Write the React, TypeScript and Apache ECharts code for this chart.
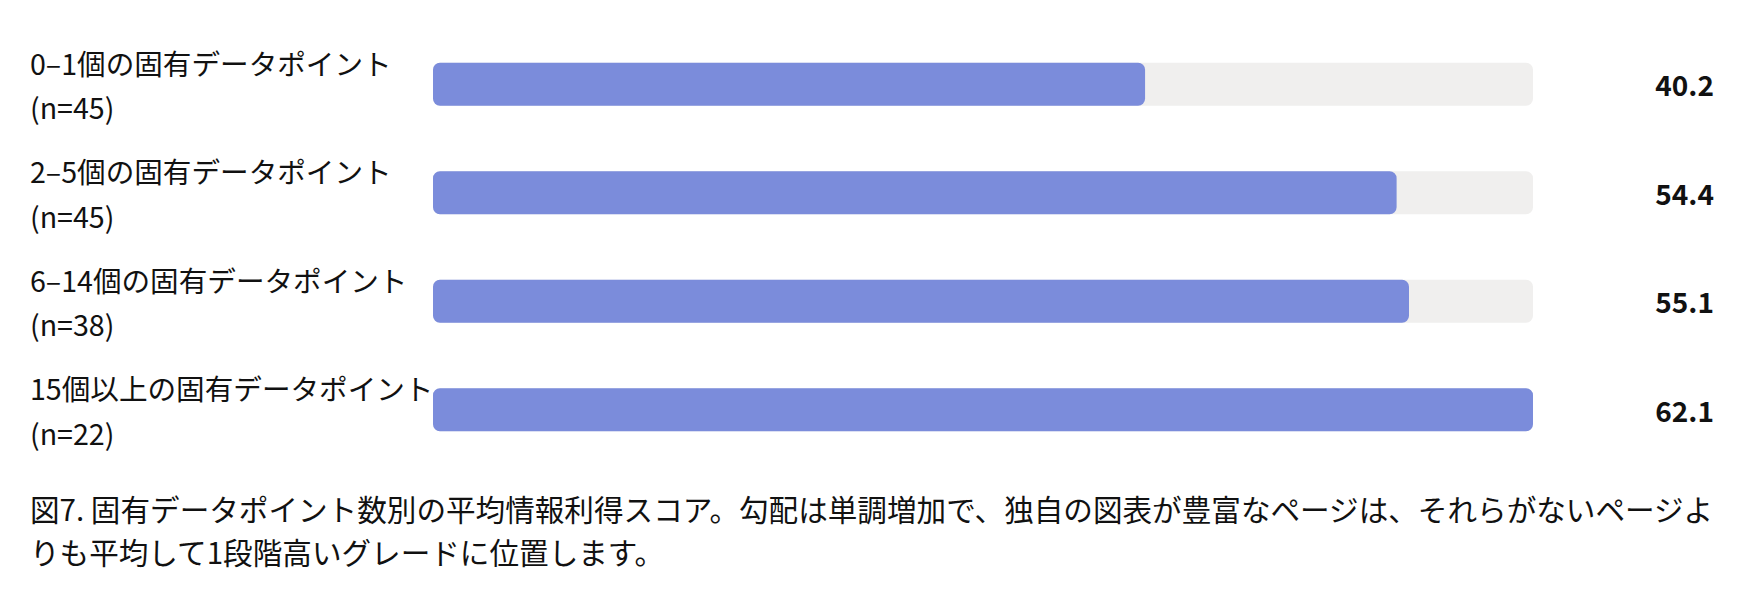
import React, { useEffect, useRef } from "react";
import * as echarts from "echarts";

const categories = [
  "0–1個の固有データポイント",
  "2–5個の固有データポイント",
  "6–14個の固有データポイント",
  "15個以上の固有データポイント",
];
const sampleSizes = [45, 45, 38, 22];
const scores = [40.2, 54.4, 55.1, 62.1];
const captionLines = [
  "図7. 固有データポイント数別の平均情報利得スコア。勾配は単調増加で、独自の図表が豊富なページは、それらがないページよ",
  "りも平均して1段階高いグレードに位置します。",
];

const FONT = '"Noto Sans CJK JP", "Noto Sans", sans-serif';

export default function App() {
  const ref = useRef<HTMLDivElement>(null);
  useEffect(() => {
    if (!ref.current) return;
    const chart = echarts.init(ref.current, null, { renderer: "svg" });
    chart.setOption({
      animation: false,
      backgroundColor: "#ffffff",
      grid: { left: 433, right: 211, top: 30, height: 434, containLabel: false },
      xAxis: {
        type: "value",
        min: 0,
        max: Math.max(...scores),
        show: false,
      },
      yAxis: [
        {
          type: "category",
          data: categories,
          inverse: true,
          axisLine: { show: false },
          axisTick: { show: false },
          axisLabel: {
            align: "left",
            margin: 403,
            formatter: (v: string, i: number) => `{a|${v}}\n{a|(n=${sampleSizes[i]})}`,
            rich: {
              a: {
                fontFamily: FONT,
                fontSize: 28.6,
                lineHeight: 44.5,
                color: "#111111",
              },
            },
          },
        },
        {
          type: "category",
          data: categories,
          inverse: true,
          position: "right",
          axisLine: { show: false },
          axisTick: { show: false },
          axisLabel: {
            align: "right",
            margin: 181,
            fontFamily: FONT,
            fontSize: 28,
            fontWeight: "bold",
            color: "#111111",
            formatter: (_v: string, i: number) => scores[i].toFixed(1),
          },
        },
      ],
      series: [
        {
          type: "bar",
          data: scores,
          barWidth: 43,
          showBackground: true,
          backgroundStyle: { color: "#f0efee", borderRadius: 7 },
          itemStyle: { color: "#7b8cdb", borderRadius: 7 },
          silent: true,
        },
      ],
      graphic: captionLines.map((line, i) => ({
        type: "text",
        left: 30,
        top: 491 + i * 43,
        style: {
          text: line,
          fontFamily: FONT,
          fontSize: 29.6,
          lineHeight: 34,
          fill: "#111111",
        },
      })),
    });
    return () => chart.dispose();
  }, []);
  return (
    <div
      ref={ref}
      style={{ position: "fixed", left: 0, top: 0, width: 1744, height: 608 }}
    />
  );
}
